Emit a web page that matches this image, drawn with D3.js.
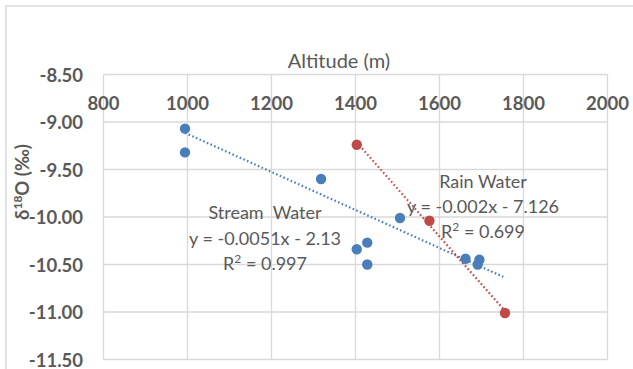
<!DOCTYPE html>
<html><head><meta charset="utf-8">
<script src="https://cdn.jsdelivr.net/npm/d3@7"></script>
<style>
html,body{margin:0;padding:0;background:#fff;overflow:hidden}
svg{display:block}
</style></head>
<body>
<script>
// ---- data ----
const streamAlt  = [994, 994, 1318, 1403, 1428, 1428, 1506, 1662, 1695, 1691];
const streamD18O = [-9.07, -9.32, -9.60, -10.34, -10.27, -10.50, -10.01, -10.44, -10.45, -10.50];
const rainAlt    = [1403, 1576, 1756];
const rainD18O   = [-9.24, -10.04, -11.01];
const trendNames      = ["stream", "rain"];
const trendSlopes     = [-0.002, -0.00503];
const trendIntercepts = [-7.126, -2.157];
const trendXStart     = [994, 1403];
const trendXEnd       = [1752, 1756];
const xTicks = [800, 1000, 1200, 1400, 1600, 1800, 2000];
const yTicks = [-8.5, -9.0, -9.5, -10.0, -10.5, -11.0, -11.5];
const xTitle = "Altitude (m)";
const streamLabel = ["Stream  Water", "y = -0.0051x - 2.13", "0.997"];
const rainLabel   = ["Rain Water", "y = -0.002x - 7.126", "0.699"];

const W = 633, H = 369;
const FONT = "Lato, 'Open Sans', sans-serif";
const GRID = "#d9d9d9", TXT = "#595959";
const BLUE = "#4a7ebb", RED = "#be4b48";

const svg = d3.select("body").append("svg").attr("width", W).attr("height", H);

// outer chart border
svg.append("rect").attr("x", 6).attr("y", 6).attr("width", W + 10).attr("height", H + 10)
  .attr("fill", "none").attr("stroke", GRID).attr("stroke-width", 1.5);

const x = d3.scaleLinear().domain([800, 2000]).range([103.5, 607.5]);
const y = d3.scaleLinear().domain([-8.5, -11.5]).range([74.5, 359.5]);

// gridlines
svg.append("g").selectAll("line").data(xTicks).join("line")
  .attr("x1", d => x(d)).attr("x2", d => x(d))
  .attr("y1", y(-8.5)).attr("y2", y(-11.5))
  .attr("stroke", GRID).attr("stroke-width", 1.3);
svg.append("g").selectAll("line").data(yTicks).join("line")
  .attr("y1", d => y(d)).attr("y2", d => y(d))
  .attr("x1", x(800)).attr("x2", x(2000))
  .attr("stroke", GRID).attr("stroke-width", 1.3);

// x tick labels (below the top edge)
svg.append("g").selectAll("text").data(xTicks).join("text")
  .attr("x", d => x(d)).attr("y", y(-8.5) + 35)
  .attr("text-anchor", "middle")
  .attr("font-family", FONT).attr("font-weight", "bold").attr("font-size", 18.5)
  .attr("fill", TXT).text(d => d3.format("d")(d));

// y tick labels
svg.append("g").selectAll("text").data(yTicks).join("text")
  .attr("x", 83).attr("y", d => y(d) + 7)
  .attr("text-anchor", "end")
  .attr("font-family", FONT).attr("font-weight", "bold").attr("font-size", 18.5)
  .attr("fill", TXT).text(d => d3.format(".2f")(d).replace("\u2212", "-"));

// axis titles
svg.append("text").attr("x", 339).attr("y", 68).attr("text-anchor", "middle")
  .attr("font-family", FONT).attr("font-size", 20).attr("fill", TXT).text(xTitle);

const yt = svg.append("text").attr("transform", "translate(29,182) rotate(-90)")
  .attr("text-anchor", "middle")
  .attr("font-family", FONT).attr("font-weight", "bold").attr("font-size", 18.5).attr("fill", TXT);
yt.append("tspan").text("δ");
yt.append("tspan").attr("font-size", 12).attr("dy", -7).text("18");
yt.append("tspan").attr("dy", 7).text("O (‰)");

// trendlines
const trends = trendNames.map((n, i) => ({
  name: n, color: i === 0 ? BLUE : RED,
  pts: [trendXStart[i], trendXEnd[i]].map(a => [a, trendSlopes[i] * a + trendIntercepts[i]])
}));
const line = d3.line().x(d => x(d[0])).y(d => y(d[1]));
svg.append("g").selectAll("path").data(trends).join("path")
  .attr("d", d => line(d.pts)).attr("fill", "none")
  .attr("stroke", d => d.color).attr("stroke-width", 2.2)
  .attr("stroke-dasharray", "1.6,2.4");

// points
const stream = streamAlt.map((a, i) => [a, streamD18O[i]]);
const rain = rainAlt.map((a, i) => [a, rainD18O[i]]);
svg.append("g").selectAll("circle").data(stream).join("circle")
  .attr("cx", d => x(d[0])).attr("cy", d => y(d[1])).attr("r", 5.2).attr("fill", BLUE);
svg.append("g").selectAll("circle").data(rain).join("circle")
  .attr("cx", d => x(d[0])).attr("cy", d => y(d[1])).attr("r", 5.2).attr("fill", RED);

// labels
function label(lines, cx, y0, dy) {
  const g = svg.append("g").attr("font-family", FONT).attr("font-size", 18)
    .attr("fill", TXT).attr("text-anchor", "middle");
  g.append("text").attr("x", cx).attr("y", y0).attr("xml:space", "preserve").text(lines[0]);
  g.append("text").attr("x", cx).attr("y", y0 + dy).text(lines[1]);
  const t = g.append("text").attr("x", cx).attr("y", y0 + 2 * dy);
  t.append("tspan").text("R");
  t.append("tspan").attr("font-size", 12).attr("dy", -7).text("2");
  t.append("tspan").attr("dy", 7).text(" = " + lines[2]);
}
label(streamLabel, 265, 219, 25.5);
label(rainLabel, 483, 188, 25);
</script>
</body></html>
